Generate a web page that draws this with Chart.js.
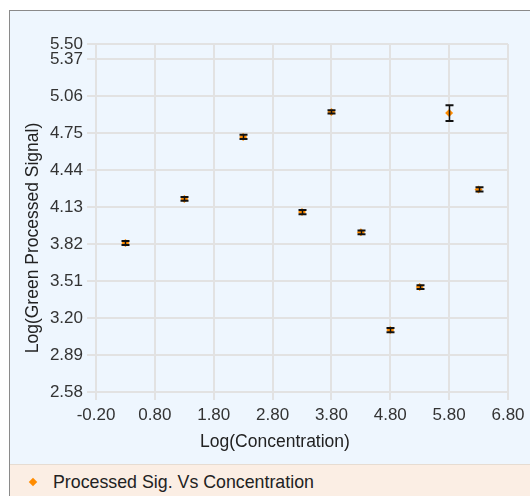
<!DOCTYPE html>
<html>
<head>
<meta charset="utf-8">
<script src="https://cdn.jsdelivr.net/npm/chart.js@4/dist/chart.umd.min.js"></script>
<style>
  html, body { margin: 0; padding: 0; background: #fff; width: 530px; height: 496px; overflow: hidden; }
  #quadro { position: absolute; left: 9px; top: 10px; width: 540px; height: 490px; border-left: 1px solid #8a8a8a; border-top: 1px solid #8a8a8a; background: #eef6fe; }
  #grafico { position: absolute; left: 1px; top: 1px; }
  #legenda { position: absolute; left: 0; top: 453px; width: 540px; height: 40px; background: #fbeee4; border-top: 1px solid #e6dcd2; font-family: "Liberation Sans", Arial, sans-serif; font-size: 17.8px; color: #222; }
  #legenda .losango { position: absolute; left: 20px; top: 14px; width: 6px; height: 6px; background: #ff8c00; transform: rotate(45deg); }
  #legenda span { position: absolute; left: 43px; top: 7px; }
</style>
</head>
<body>
<div id="quadro">
  <canvas id="grafico" width="520" height="452"></canvas>
  <div id="legenda"><div class="losango"></div><span>Processed Sig. Vs Concentration</span></div>
</div>
<script>
// Dados
const logConc = [0.3, 1.3, 2.3, 3.3, 3.8, 4.3, 4.8, 5.3, 5.8, 6.3];
const logSinal = [3.83, 4.20, 4.72, 4.09, 4.93, 3.92, 3.10, 3.46, 4.92, 4.28];
const erroSinal = [0.016, 0.016, 0.018, 0.018, 0.014, 0.016, 0.018, 0.016, 0.066, 0.018];
const ticksX = [-0.2, 0.8, 1.8, 2.8, 3.8, 4.8, 5.8, 6.8];
const ticksY = [2.58, 2.89, 3.20, 3.51, 3.82, 4.13, 4.44, 4.75, 5.06, 5.37, 5.50];

const fonte = { family: "'Liberation Sans', Arial, sans-serif", size: 17 };
const corGrade = "#e2e2e2";

// barras de erro desenhadas por cima dos pontos
const barrasErro = {
  id: "barrasErro",
  afterDatasetsDraw(chart) {
    const { ctx, scales: { x, y } } = chart;
    ctx.save();
    ctx.strokeStyle = "#111";
    logConc.forEach((v, i) => {
      const px = Math.round(x.getPixelForValue(v)) + 0.5;
      const topo = y.getPixelForValue(logSinal[i] + erroSinal[i]);
      const base = y.getPixelForValue(logSinal[i] - erroSinal[i]);
      ctx.lineWidth = 1.5;
      ctx.beginPath();
      ctx.moveTo(px, topo);
      ctx.lineTo(px, base);
      ctx.stroke();
      ctx.lineWidth = 2;
      ctx.beginPath();
      ctx.moveTo(px - 4, topo);
      ctx.lineTo(px + 4, topo);
      ctx.moveTo(px - 4, base);
      ctx.lineTo(px + 4, base);
      ctx.stroke();
    });
    ctx.restore();
  }
};

// títulos dos eixos centrados no canvas
const titulosEixos = {
  id: "titulosEixos",
  afterDraw(chart) {
    const { ctx } = chart;
    ctx.save();
    ctx.fillStyle = "#222";
    ctx.font = "17.5px 'Liberation Sans', Arial, sans-serif";
    ctx.textAlign = "center";
    ctx.textBaseline = "middle";
    ctx.fillText("Log(Concentration)", 264, 430);
    ctx.translate(22, 226);
    ctx.rotate(-Math.PI / 2);
    ctx.fillText("Log(Green Processed Signal)", 0, 0);
    ctx.restore();
  }
};

new Chart(document.getElementById("grafico"), {
  type: "scatter",
  data: {
    datasets: [{
      label: "Processed Sig. Vs Concentration",
      data: logConc.map((v, i) => ({ x: v, y: logSinal[i] })),
      pointStyle: "rectRot",
      pointRadius: 4,
      backgroundColor: "#ff8c00",
      borderColor: "#ff8c00",
      borderWidth: 0
    }]
  },
  options: {
    responsive: false,
    devicePixelRatio: 1,
    animation: false,
    layout: { padding: { top: 32, right: 23, left: 0, bottom: 0 } },
    plugins: { legend: { display: false }, tooltip: { enabled: false } },
    scales: {
      x: {
        type: "linear",
        min: -0.2,
        max: 6.8,
        afterBuildTicks: s => { s.ticks = ticksX.map(v => ({ value: v })); },
        afterFit: s => { s.height = 72; },
        ticks: { font: fonte, color: "#333", padding: 5, maxRotation: 0, autoSkip: false, callback: v => v.toFixed(2) },
        grid: { color: corGrade, lineWidth: 2, tickLength: 8 },
        border: { color: corGrade, width: 2 }
      },
      y: {
        type: "linear",
        min: 2.58,
        max: 5.5,
        afterBuildTicks: s => { s.ticks = ticksY.map(v => ({ value: v })); },
        afterFit: s => { s.width = 85; },
        ticks: { font: fonte, color: "#333", padding: 4, autoSkip: false, callback: v => v.toFixed(2) },
        grid: { color: corGrade, lineWidth: 2, tickLength: 9 },
        border: { color: corGrade, width: 2 }
      }
    }
  },
  plugins: [barrasErro, titulosEixos]
});
</script>
</body>
</html>
